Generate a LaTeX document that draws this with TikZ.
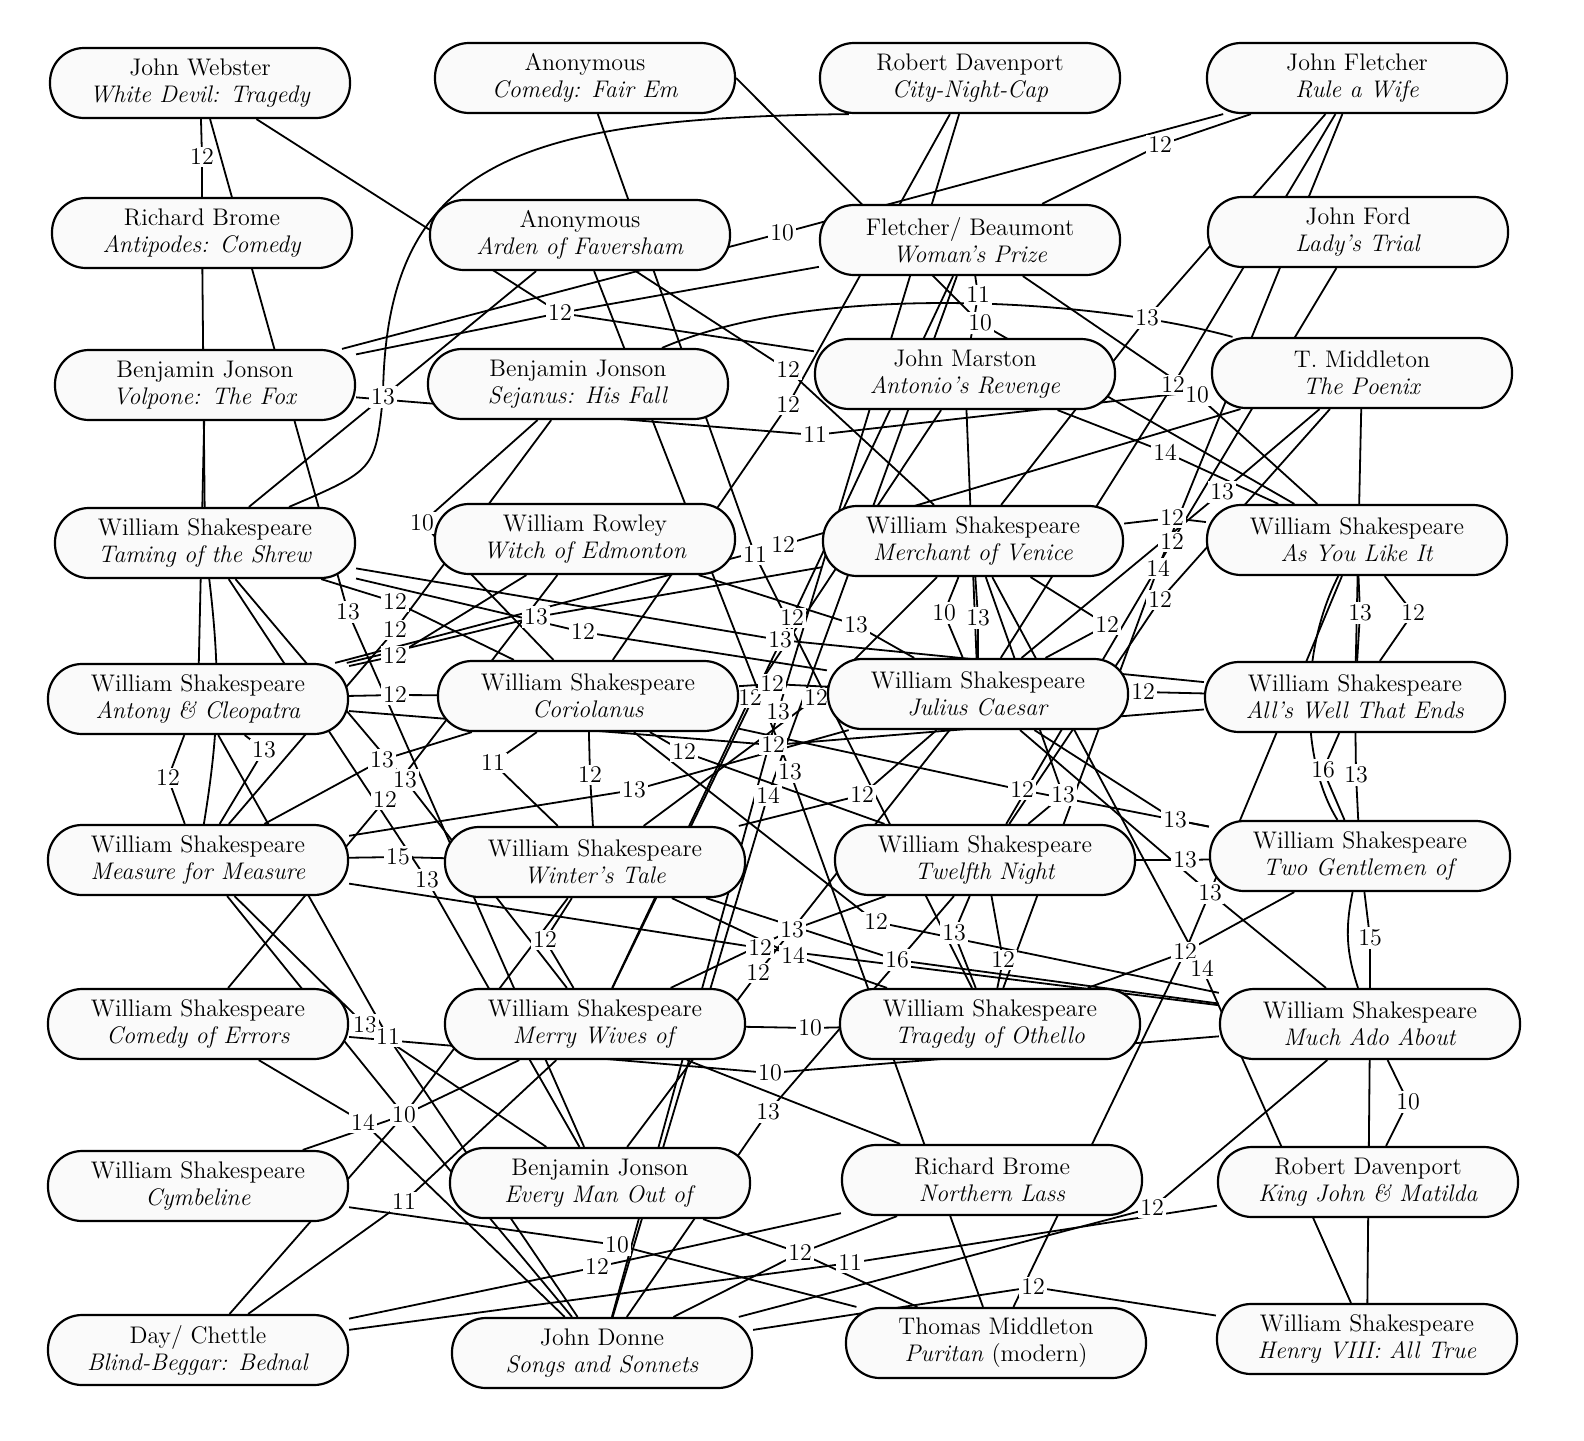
\documentclass[tikz,border=0pt]{standalone}
\usepackage{fontspec}
\pgfdeclarelayer{edgelayer}
\pgfdeclarelayer{lablayer}
\pgfsetlayers{edgelayer,lablayer,main}
\tikzset{
  play/.style={draw, line width=1.1pt, rounded corners=17pt, fill=gray!4, minimum width=150pt, minimum height=35pt, align=center, inner sep=2pt, font=\fontsize{12}{13.5}\selectfont},
  lbl/.style={fill=white, inner sep=1.2pt, font=\fontsize{12}{12}\selectfont},
  link/.style={line width=0.9pt},
}
\begin{document}
\begin{tikzpicture}[x=0.5pt, y=-0.5pt]
  \useasboundingbox (0,0) rectangle (1584,1440);
  \begin{pgfonlayer}{edgelayer}
    \fill[white] (0,0) rectangle (1584,1440);
  \end{pgfonlayer}

  % first column
  \node [play] (webster)   at (200,83)   {John Webster\\\textit{White Devil: Tragedy}};
  \node [play] (bromeA)    at (202,233)  {Richard Brome\\\textit{Antipodes: Comedy}};
  \node [play] (volpone)   at (205,385)  {Benjamin Jonson\\\textit{Volpone: The Fox}};
  \node [play] (shrew)     at (205,543)  {William Shakespeare\\\textit{Taming of the Shrew}};
  \node [play] (antony)    at (198,699)  {William Shakespeare\\\textit{Antony \& Cleopatra}};
  \node [play] (measure)   at (198,860)  {William Shakespeare\\\textit{Measure for Measure}};
  \node [play] (errors)    at (198,1024) {William Shakespeare\\\textit{Comedy of Errors}};
  \node [play] (cymbeline) at (198,1186) {William Shakespeare\\\textit{Cymbeline}};
  \node [play] (bednal)    at (198,1350) {Day/ Chettle\\\textit{Blind-Beggar: Bednal}};

  % second column
  \node [play] (fairem)     at (585,78)   {Anonymous\\\textit{Comedy: Fair Em}};
  \node [play] (arden)      at (580,235)  {Anonymous\\\textit{Arden of Faversham}};
  \node [play] (sejanus)    at (578,384)  {Benjamin Jonson\\\textit{Sejanus: His Fall}};
  \node [play] (witch)      at (585,539)  {William Rowley\\\textit{Witch of Edmonton}};
  \node [play] (coriolanus) at (588,696)  {William Shakespeare\\\textit{Coriolanus}};
  \node [play] (winter)     at (595,862)  {William Shakespeare\\\textit{Winter's Tale}};
  \node [play] (merry)      at (595,1024) {William Shakespeare\\\textit{Merry Wives of}};
  \node [play] (everyman)   at (600,1183) {Benjamin Jonson\\\textit{Every Man Out of}};
  \node [play] (donne)      at (602,1353) {John Donne\\\textit{Songs and Sonnets}};

  % third column
  \node [play] (citynight)  at (970,78)   {Robert Davenport\\\textit{City-Night-Cap}};
  \node [play] (womanprize) at (970,240)  {Fletcher/ Beaumont\\\textit{Woman's Prize}};
  \node [play] (marston)    at (965,374)  {John Marston\\\textit{Antonio's Revenge}};
  \node [play] (merchant)   at (973,541)  {William Shakespeare\\\textit{Merchant of Venice}};
  \node [play] (caesar)     at (978,694)  {William Shakespeare\\\textit{Julius Caesar}};
  \node [play] (twelfth)    at (985,860)  {William Shakespeare\\\textit{Twelfth Night}};
  \node [play] (othello)    at (990,1024) {William Shakespeare\\\textit{Tragedy of Othello}};
  \node [play] (northern)   at (992,1180) {Richard Brome\\\textit{Northern Lass}};
  \node [play] (puritan)    at (996,1343) {Thomas Middleton\\\textit{Puritan} (modern)};

  % fourth column
  \node [play] (rulewife)  at (1357,78)   {John Fletcher\\\textit{Rule a Wife}};
  \node [play] (ladytrial) at (1358,232)  {John Ford\\\textit{Lady's Trial}};
  \node [play] (poenix)    at (1362,373)  {T. Middleton\\\textit{The Poenix}};
  \node [play] (asyoulike) at (1357,540)  {William Shakespeare\\\textit{As You Like It}};
  \node [play] (allswell)  at (1355,697)  {William Shakespeare\\\textit{All's Well That Ends}};
  \node [play] (twogent)   at (1360,856)  {William Shakespeare\\\textit{Two Gentlemen of}};
  \node [play] (muchado)   at (1370,1024) {William Shakespeare\\\textit{Much Ado About}};
  \node [play] (kingjohn)  at (1368,1182) {Robert Davenport\\\textit{King John \& Matilda}};
  \node [play] (henry)     at (1367,1339) {William Shakespeare\\\textit{Henry VIII: All True}};

  % labelled links: from / to / label position / weight
  \foreach \a/\b/\x/\y/\t in {
    webster/bromeA/202/157/12, volpone/rulewife/782/233/10, webster/marston/560/313/12,
    volpone/womanprize/560/313/12, shrew/arden/383/397/13, womanprize/marston/978/295/11,
    rulewife/womanprize/1160/145/12, rulewife/merchant/1147/318/13,
    rulewife/caesar/1173/385/12, womanprize/asyoulike/1197/395/10, volpone/poenix/815/435/11,
    arden/merchant/788/370/12, citynight/coriolanus/788/405/12, marston/asyoulike/1165/452/14,
    caesar/poenix/1222/492/13, merchant/asyoulike/1172/518/12, ladytrial/twelfth/1172/542/12,
    rulewife/othello/1158/568/14, twelfth/poenix/1160/600/12, merchant/caesar/1107/625/12,
    merchant/caesar/944/613/10, merchant/caesar/978/618/13, sejanus/coriolanus/422/523/10,
    fairem/othello/755/555/11, antony/poenix/783/545/12, webster/everyman/348/612/13,
    shrew/coriolanus/395/602/12, sejanus/measure/395/630/12, antony/witch/395/656/12,
    antony/coriolanus/395/695/12, antony/merchant/536/617/13, shrew/caesar/583/632/12,
    womanprize/merry/792/618/12, shrew/allswell/780/640/13, witch/caesar/856/625/13,
    asyoulike/allswell/1360/613/13, asyoulike/allswell/1413/613/12, merry/marston/750/698/12,
    coriolanus/caesar/772/684/12, winter/merchant/816/698/12, citynight/donne/778/712/13,
    caesar/allswell/1143/692/12, antony/allswell/773/745/12, coriolanus/twelfth/684/752/12,
    antony/measure/264/750/13, antony/measure/168/778/12, coriolanus/winter/493/763/11,
    coriolanus/winter/590/775/12, measure/caesar/634/790/13, arden/puritan/790/772/13,
    womanprize/donne/768/795/14, winter/caesar/862/795/12, coriolanus/twogent/1022/790/12,
    merchant/twelfth/1063/795/13, allswell/twogent/1323/770/16, allswell/twogent/1356/775/13,
    coriolanus/measure/382/760/13, shrew/merry/405/780/13, witch/errors/385/800/12,
    measure/winter/398/857/15, shrew/everyman/427/880/13, caesar/twogent/1175/820/13,
    twelfth/twogent/1185/860/13, caesar/muchado/1210/893/13, winter/merry/545/940/12,
    measure/muchado/760/948/12, merry/twelfth/792/930/13, winter/othello/793/955/14,
    everyman/caesar/758/973/12, coriolanus/muchado/876/922/12, twelfth/othello/954/933/13,
    winter/muchado/897/960/16, twelfth/othello/1003/960/12, othello/twogent/1185/952/12,
    puritan/asyoulike/1185/952/12, merchant/henry/1202/968/14, twogent/muchado/1370/938/15,
    measure/everyman/365/1025/13, antony/donne/388/1037/11, merry/othello/810/1028/10,
    errors/muchado/770/1073/10, donne/twelfth/768/1112/13, errors/donne/363/1122/14,
    cymbeline/merry/404/1115/10, measure/donne/404/1115/10, winter/bednal/404/1115/10,
    bednal/merry/404/1202/11, muchado/kingjohn/1408/1102/10, muchado/donne/1152/1208/12,
    cymbeline/puritan/617/1245/10, bednal/northern/597/1267/12, everyman/puritan/800/1253/12,
    donne/northern/800/1253/12, bednal/kingjohn/850/1263/11, donne/henry/1033/1287/12}
  {
    \begin{pgfonlayer}{lablayer}
      \node [lbl] (w) at (\x,\y) {\t};
    \end{pgfonlayer}
    \begin{pgfonlayer}{edgelayer}
      \draw [link] (\a) -- (w.center) -- (\b);
    \end{pgfonlayer}
  }

  % links that leave a box at its side or bend
  \begin{pgfonlayer}{lablayer}
    \node [lbl] (wcity) at (383,397) {13};
    \node [lbl] (wfair) at (980,323) {10};
  \end{pgfonlayer}
  \begin{pgfonlayer}{edgelayer}
    \draw [link] ([xshift=15pt]citynight.south west) .. controls (520,118) and (385,160) .. (wcity.center) .. controls (375,470) .. (shrew);
    \draw [link] (fairem.east) -- (wfair.center) -- (asyoulike);
    % links whose labels lie under a box
    \draw [link] (bromeA) -- (shrew);
    \draw [link] (volpone) -- (antony);
    \draw [link] (shrew) to[bend left=8] (measure);
    \draw [link] (sejanus) .. controls (820,280) and (1100,300) .. (poenix);
    \draw [link] (marston) -- (caesar);
    \draw [link] (poenix) -- (allswell);
    \draw [link] (asyoulike) .. controls (1300,650) and (1300,760) .. (twogent);
    \draw [link] (twogent) to[bend right=15] (muchado);
    \draw [link] (muchado) -- (henry);
    \draw [link] (merry) -- (northern);
  \end{pgfonlayer}
\end{tikzpicture}
\end{document}
